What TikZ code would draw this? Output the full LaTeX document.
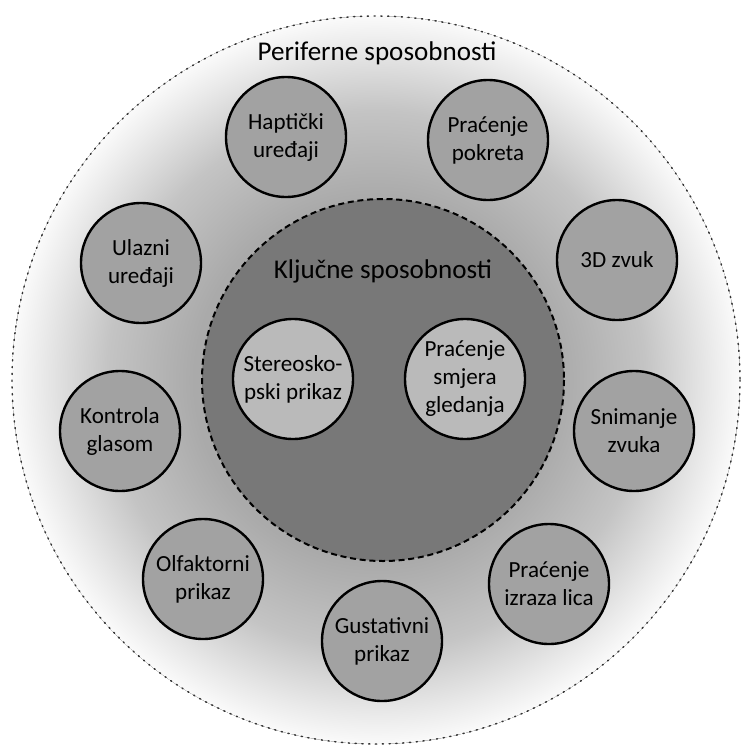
\documentclass[tikz,border=0pt]{standalone}
\usepackage{fontspec}
\setmainfont{Carlito}
\usepackage{xcolor}

\definecolor{haloDark}{RGB}{170,170,170}
\definecolor{haloMid}{RGB}{196,196,196}
\definecolor{haloLight}{RGB}{234,234,234}
\definecolor{haloEdge}{RGB}{250,250,250}
\definecolor{ringFill}{RGB}{162,162,162}
\definecolor{keyFill}{RGB}{120,120,120}
\definecolor{coreFill}{RGB}{186,186,186}
\pgfdeclareradialshading{halo}{\pgfpoint{0bp}{0bp}}{color(0bp)=(haloDark); color(12.5bp)=(haloDark); color(18.5bp)=(haloMid); color(23bp)=(haloLight); color(25bp)=(haloEdge); color(50bp)=(haloEdge)}

\begin{document}
\begin{tikzpicture}[x=0.75pt,y=0.75pt,yscale=-1,xscale=1,
    ability/.style={circle, draw=black, line width=1.8pt, fill=ringFill, minimum size=90pt, inner sep=0pt, align=center, font=\fontsize{17.3}{21}\selectfont},
    keyability/.style={ability, fill=coreFill},
    areatitle/.style={inner sep=0.75pt, font=\fontsize{20.3}{24}\selectfont}]
        \useasboundingbox (0,0) rectangle (742,749);

        %Shape: Circle [id:periferne]
        \fill [shading=halo] (376,380) circle [radius=364];
        \draw [line width=1.1pt, dash pattern=on 0.9pt off 4.2pt, line cap=round, black!80] (376,380) circle [radius=364];
        %Shape: Circle [id:kljucne]
        \draw [fill=keyFill, line width=1.5pt, dash pattern=on 4.5pt off 2.8pt] (383,380) circle [radius=181];

        % Text Node
        \node [areatitle] (perTitle) at (377,53) {Periferne sposobnosti};
        % Text Node
        \node [areatitle] (keyTitle) at (383,271) {Ključne sposobnosti};

        % Peripheral abilities
        \node [ability] (hapt) at (286,137) {Haptički\\uređaji};
        \node [ability] (pokr) at (488,140) {Praćenje\\pokreta};
        \node [ability] (ulaz) at (141,263) {Ulazni\\uređaji};
        \node [ability] (zvuk) at (617,260) {3D zvuk};
        \node [ability] (glas) at (120,431) {Kontrola\\glasom};
        \node [ability] (snim) at (634,431) {Snimanje\\zvuka};
        \node [ability] (olf) at (203,579) {Olfaktorni\\prikaz};
        \node [ability] (lica) at (549,584) {Praćenje\\izraza lica};
        \node [ability] (gust) at (382,641) {Gustativni\\prikaz};

        % Key abilities
        \node [keyability] (stereo) at (293,379) {Stereosko-\\pski prikaz};
        \node [keyability] (pogled) at (465,379) {Praćenje\\smjera\\gledanja};

\end{tikzpicture}
\end{document}
